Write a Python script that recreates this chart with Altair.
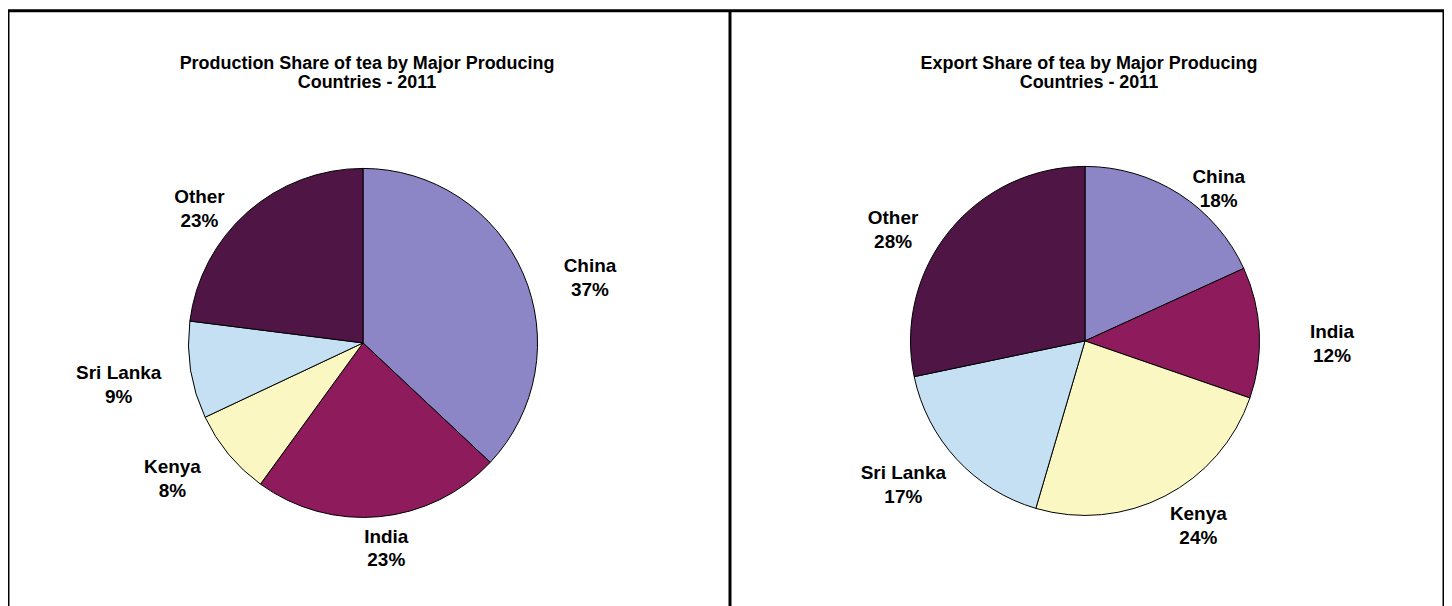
import altair as alt
import pandas as pd

countries = ["China", "India", "Kenya", "Sri Lanka", "Other"]
production_share = [37, 23, 8, 9, 23]
export_share = [18, 12, 24, 17, 28]
colors = ["#8c86c6", "#8e1c5c", "#fbf7c2", "#c4e0f2", "#4e1545"]

titles = [
    "Production Share of tea by Major Producing\nCountries - 2011",
    "Export Share of tea by Major Producing\nCountries - 2011",
]

FONT = "Liberation Sans"
W, H = 1440, 612
R = 175          # pie radius
RX, RY = 248, 195  # label ellipse radii

color = alt.Color(
    "country:N",
    scale=alt.Scale(domain=countries, range=colors),
    legend=None,
)


def pie(values, title, cx, cy):
    df = pd.DataFrame({"country": countries, "value": values,
                       "idx": list(range(len(countries)))})
    base = alt.Chart(df)
    arcs = base.mark_arc(radius=R, stroke="black", strokeWidth=1).encode(
        theta=alt.Theta("value:Q", stack=True),
        color=color,
        order=alt.Order("idx:Q"),
        x=alt.value(cx),
        y=alt.value(cy),
    )
    labels = (
        base.transform_window(cum="sum(value)", sort=[alt.SortField("idx")])
        .transform_joinaggregate(total="sum(value)")
        .transform_calculate(
            mid="(datum.cum - datum.value / 2) / datum.total * 2 * PI",
            label="datum.country + '\\n' + datum.value + '%'",
        )
        .transform_calculate(
            lx=f"{cx} + {RX} * sin(datum.mid)",
            ly=f"{cy} - {RY} * cos(datum.mid)",
        )
        .mark_text(
            font=FONT, fontSize=19, fontWeight="bold", lineBreak="\n",
            lineHeight=24, color="black", baseline="middle", align="center",
        )
        .encode(
            x=alt.X("lx:Q", scale=None, axis=None),
            y=alt.Y("ly:Q", scale=None, axis=None),
            text="label:N",
        )
    )
    ttl = alt.Chart(pd.DataFrame({"t": [title]})).mark_text(
        font=FONT, fontSize=18, fontWeight="bold", lineBreak="\n",
        lineHeight=19, color="black", baseline="top", align="center",
    ).encode(text="t:N", x=alt.value(cx + 4), y=alt.value(44))
    return alt.layer(arcs, labels, ttl).resolve_scale(theta="independent")


left = pie(production_share, titles[0], 356, 333)
right = pie(export_share, titles[1], 1080, 331)

divider = alt.Chart(pd.DataFrame({"d": [0]})).mark_rule(
    color="black", strokeWidth=3
).encode(x=alt.value(724), y=alt.value(0), y2=alt.value(H))

chart = (
    alt.layer(left, right, divider)
    .resolve_scale(theta="independent")
    .properties(width=W, height=H, padding=0)
    .configure_view(stroke="black", strokeWidth=3)
)

chart.save("out.html", embed_options={"renderer": "svg", "actions": False})
